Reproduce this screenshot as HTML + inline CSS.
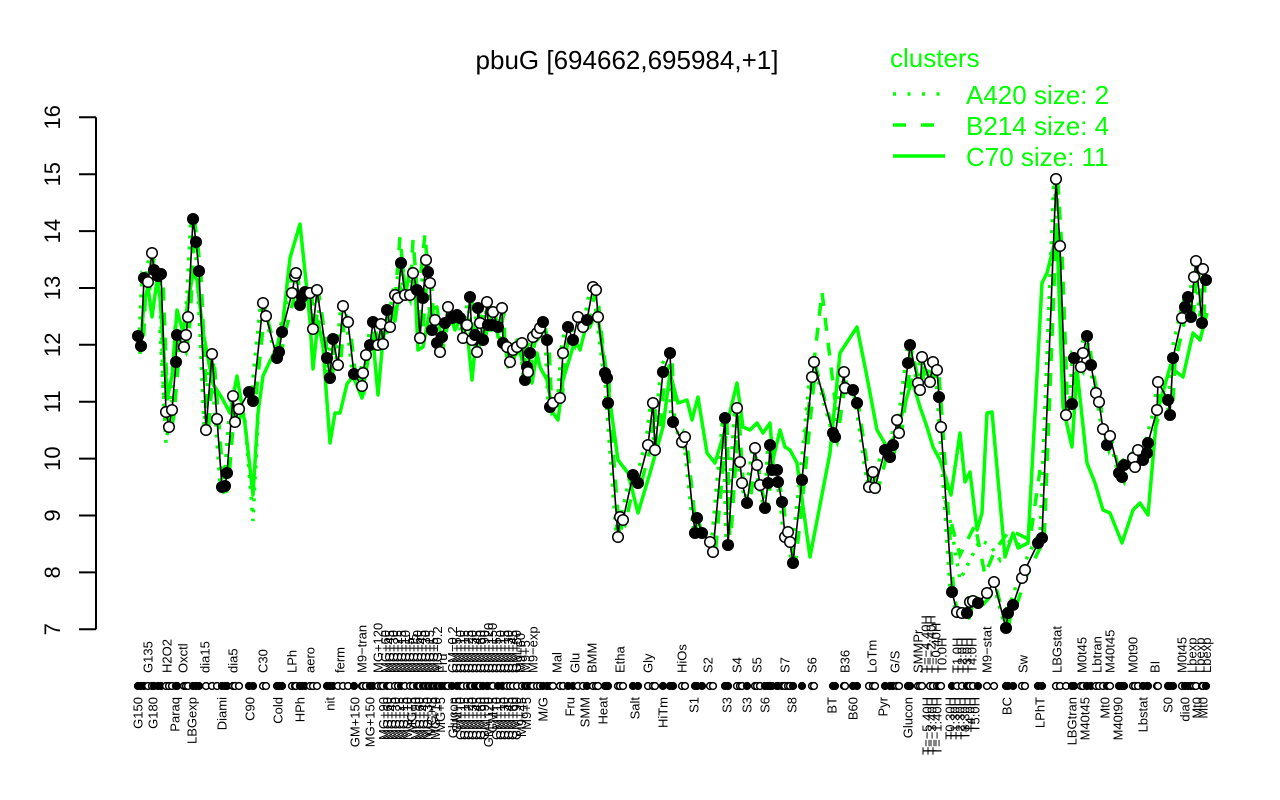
<!DOCTYPE html>
<html><head><meta charset="utf-8"><style>
html,body{margin:0;padding:0;background:#fff;}
svg{display:block;font-family:"Liberation Sans",Arial,sans-serif;}
.f{fill:#000;stroke:#000;stroke-width:1.5}
.o{fill:#fff;stroke:#000;stroke-width:1.5}
.lt{font-size:13px;fill:#000}
.lb{font-size:13px;fill:#000;text-anchor:end}
</style></head><body>
<svg width="1280" height="800" viewBox="0 0 1280 800" xmlns="http://www.w3.org/2000/svg">
<rect width="1280" height="800" fill="#fff"/>
<defs>
<polyline id="bl" points="138,336 141,346 144,278 148,282 152,253 154,270 158,276 161,274 166,412 169,427 172,410 176,362 177,335 184,347 186,335 188,317 193,219 196,242 199,271 206,430 212,354 217,419 222,487 225,486 227,473 233,396 235,422 239,409 249,392 253,401 263,303 266,316 277,358 279,352 282,332 292,293 295,276 296,273 300,305 302,297 305,292 310,293 313,329 317,290 327,358 330,378 333,339 338,365 343,306 348,322 354,374 362,386 363,373 366,355 370,345 373,322 378,345 381,324 383,344 387,310 390,327 395,295 398,298 401,263 405,295 410,295 413,273 417,290 420,338 423,298 426,260 428,272 430,283 432,330 435,320 437,343 440,352 442,337 445,323 448,307 452,318 457,315 460,318 463,338 467,325 470,297 472,340 475,335 477,352 478,308 480,323 483,340 487,302 488,325 492,325 493,312 498,327 502,308 503,343 507,347 510,362 513,350 517,347 522,343 525,380 527,367 528,372 530,353 533,337 537,333 540,328 543,322 547,340 550,407 553,403 560,398 563,353 568,327 573,340 578,317 583,327 587,320 593,287 596,290 598,317 605,373 607,378 608,403 618,537 620,517 623,520 633,475 638,483 648,445 653,403 655,450 663,372 670,353 673,422 682,442 685,437 695,533 697,518 702,533 710,542 713,552 725,418 728,545 737,408 740,462 742,483 747,503 755,448 757,465 760,485 765,508 768,483 770,445 772,470 777,470 778,482 782,502 785,537 788,532 790,542 793,563 802,480 812,377 814,362 833,433 835,437 844,372 845,388 853,390 857,403 869,487 873,472 875,488 885,450 890,457 893,445 897,420 899,433 908,363 910,345 918,383 920,390 922,357 930,382 933,362 937,370 939,397 941,427 952,592 957,612 962,613 967,613 970,602 973,601 978,603 987,593 994,582 1006,628 1008,613 1013,605 1022,578 1025,570 1038,543 1042,538 1056,179 1060,246 1066,415 1072,404 1074,358 1081,367 1083,353 1087,336 1091,365 1096,393 1099,402 1103,429 1107,445 1110,436 1119,473 1122,477 1124,465 1133,458 1135,467 1138,450 1143,460 1147,453 1148,443 1157,410 1158,382 1168,400 1170,415 1173,358 1182,318 1185,307 1188,297 1191,317 1194,277 1196,261 1202,323 1203,269 1206,280"/>
</defs>

<!-- title -->
<text x="627" y="69" font-size="26" text-anchor="middle" fill="#000">pbuG [694662,695984,+1]</text>

<!-- legend -->
<text x="890" y="67" font-size="26" fill="#00ff00">clusters</text>
<line x1="893" y1="94" x2="945" y2="94" stroke="#00ff00" stroke-width="3.5" stroke-dasharray="3,11.5"/>
<line x1="893" y1="125" x2="945" y2="125" stroke="#00ff00" stroke-width="3.5" stroke-dasharray="13,15"/>
<line x1="893" y1="156" x2="945" y2="156" stroke="#00ff00" stroke-width="3.5"/>
<text x="966" y="104" font-size="26" fill="#00ff00">A420 size: 2</text>
<text x="966" y="135" font-size="26" fill="#00ff00">B214 size: 4</text>
<text x="966" y="166" font-size="26" fill="#00ff00">C70 size: 11</text>

<!-- y axis -->
<g stroke="#000" stroke-width="2" fill="none">
<line x1="96" y1="117.3" x2="96" y2="629.3"/>
<line x1="79" y1="117.3" x2="96" y2="117.3"/>
<line x1="79" y1="174.2" x2="96" y2="174.2"/>
<line x1="79" y1="231.1" x2="96" y2="231.1"/>
<line x1="79" y1="288" x2="96" y2="288"/>
<line x1="79" y1="344.8" x2="96" y2="344.8"/>
<line x1="79" y1="401.7" x2="96" y2="401.7"/>
<line x1="79" y1="458.6" x2="96" y2="458.6"/>
<line x1="79" y1="515.5" x2="96" y2="515.5"/>
<line x1="79" y1="572.4" x2="96" y2="572.4"/>
<line x1="79" y1="629.3" x2="96" y2="629.3"/>
</g>
<g font-size="22" fill="#000" text-anchor="middle">
<text transform="translate(60,117.3) rotate(-90)">16</text>
<text transform="translate(60,174.2) rotate(-90)">15</text>
<text transform="translate(60,231.1) rotate(-90)">14</text>
<text transform="translate(60,288) rotate(-90)">13</text>
<text transform="translate(60,344.8) rotate(-90)">12</text>
<text transform="translate(60,401.7) rotate(-90)">11</text>
<text transform="translate(60,458.6) rotate(-90)">10</text>
<text transform="translate(60,515.5) rotate(-90)">9</text>
<text transform="translate(60,572.4) rotate(-90)">8</text>
<text transform="translate(60,629.3) rotate(-90)">7</text>
</g>

<!-- green lines -->
<use href="#bl" fill="none" stroke="#00ff00" stroke-width="3.5" stroke-dasharray="3,8" transform="translate(-2,-4)"/>
<use href="#bl" fill="none" stroke="#00ff00" stroke-width="3.5" stroke-dasharray="13,12" transform="translate(2,5)"/>
<!-- extra dashed excursions -->
<polyline fill="none" stroke="#00ff00" stroke-width="3.5" stroke-dasharray="13,12" points="395,300 400,237 405,290 410,300 413,240 418,300 425,234 430,300"/>
<polyline fill="none" stroke="#00ff00" stroke-width="3.5" stroke-dasharray="13,12" points="805,440 822,292 835,400"/>
<polyline fill="none" stroke="#00ff00" stroke-width="3.5" stroke-dasharray="13,12" points="945,500 960,555 975,525 985,575 995,550 1010,530 1030,540 1040,470"/>
<!-- extra dotted excursions -->
<polyline fill="none" stroke="#00ff00" stroke-width="3.5" stroke-dasharray="3,8" points="160,330 166,443 172,400"/>
<polyline fill="none" stroke="#00ff00" stroke-width="3.5" stroke-dasharray="3,8" points="245,420 253,521 258,420"/>
<polyline fill="none" stroke="#00ff00" stroke-width="3.5" stroke-dasharray="3,8" points="950,520 960,580 970,560 980,540 990,545 1000,560 1010,540 1020,545 1030,540"/>
<polyline fill="none" stroke="#00ff00" stroke-width="3.5" stroke-linejoin="round" points="140,354 144,302 148,287 152,317 157,280 160,298 165,369 168,395 172,376 177,310 183,332 188,302 193,273 197,280 203,332 208,358 213,384 222,398 230,413 237,376 245,424 253,495 258,413 263,376 270,361 277,347 283,321 290,258 300,224 305,272 310,321 313,369 318,321 323,347 330,443 335,413 340,413 347,384 353,376 362,398 367,361 373,339 378,395 383,339 390,313 395,321 400,287 405,298 410,269 415,284 418,350 423,347 430,310 437,307 442,347 448,310 455,330 460,320 468,340 472,380 475,350 480,333 485,337 490,320 495,310 498,337 505,340 508,367 517,340 522,360 527,343 532,383 537,353 540,367 547,380 553,413 558,420 563,380 570,357 575,340 580,350 585,330 590,327 597,310 603,353 608,387 618,460 628,473 638,513 650,473 663,427 670,373 678,403 687,400 692,420 698,397 707,453 715,463 725,430 728,420 737,383 743,427 750,430 757,423 763,433 770,423 773,460 780,430 785,447 790,450 797,463 810,557 830,453 840,353 857,327 867,377 877,430 887,447 897,433 903,410 912,380 920,407 927,427 933,447 940,460 951,495 960,433 965,482 970,472 977,530 982,513 987,413 992,412 1005,557 1013,533 1018,548 1028,543 1042,283 1047,273 1057,233 1063,407 1072,447 1077,370 1087,463 1095,483 1103,510 1110,513 1122,543 1133,510 1140,503 1148,515 1157,413 1170,367 1183,377 1193,333 1200,340 1207,313"/>

<!-- black line -->
<use href="#bl" fill="none" stroke="#000" stroke-width="1.6"/>

<!-- points -->
<g>
<circle cx="138" cy="336" r="5.3" class="f"/><circle cx="141" cy="346" r="5.3" class="f"/><circle cx="144" cy="278" r="5.3" class="f"/><circle cx="148" cy="282" r="5.3" class="o"/><circle cx="152" cy="253" r="5.3" class="o"/><circle cx="154" cy="270" r="5.3" class="f"/><circle cx="158" cy="276" r="5.3" class="f"/><circle cx="161" cy="274" r="5.3" class="f"/><circle cx="166" cy="412" r="5.3" class="o"/><circle cx="169" cy="427" r="5.3" class="o"/><circle cx="172" cy="410" r="5.3" class="o"/><circle cx="176" cy="362" r="5.3" class="f"/><circle cx="177" cy="335" r="5.3" class="f"/><circle cx="184" cy="347" r="5.3" class="o"/><circle cx="186" cy="335" r="5.3" class="o"/><circle cx="188" cy="317" r="5.3" class="o"/><circle cx="193" cy="219" r="5.3" class="f"/><circle cx="196" cy="242" r="5.3" class="f"/><circle cx="199" cy="271" r="5.3" class="f"/><circle cx="206" cy="430" r="5.3" class="o"/><circle cx="212" cy="354" r="5.3" class="o"/><circle cx="217" cy="419" r="5.3" class="o"/><circle cx="222" cy="487" r="5.3" class="f"/><circle cx="225" cy="486" r="5.3" class="f"/><circle cx="227" cy="473" r="5.3" class="f"/><circle cx="233" cy="396" r="5.3" class="o"/><circle cx="235" cy="422" r="5.3" class="o"/><circle cx="239" cy="409" r="5.3" class="o"/><circle cx="249" cy="392" r="5.3" class="f"/><circle cx="253" cy="401" r="5.3" class="f"/><circle cx="263" cy="303" r="5.3" class="o"/><circle cx="266" cy="316" r="5.3" class="o"/><circle cx="277" cy="358" r="5.3" class="f"/><circle cx="279" cy="352" r="5.3" class="f"/><circle cx="282" cy="332" r="5.3" class="f"/><circle cx="292" cy="293" r="5.3" class="o"/><circle cx="295" cy="276" r="5.3" class="o"/><circle cx="296" cy="273" r="5.3" class="o"/><circle cx="300" cy="305" r="5.3" class="f"/><circle cx="302" cy="297" r="5.3" class="f"/><circle cx="305" cy="292" r="5.3" class="f"/><circle cx="310" cy="293" r="5.3" class="o"/><circle cx="313" cy="329" r="5.3" class="o"/><circle cx="317" cy="290" r="5.3" class="o"/><circle cx="327" cy="358" r="5.3" class="f"/><circle cx="330" cy="378" r="5.3" class="f"/><circle cx="333" cy="339" r="5.3" class="f"/><circle cx="338" cy="365" r="5.3" class="o"/><circle cx="343" cy="306" r="5.3" class="o"/><circle cx="348" cy="322" r="5.3" class="o"/><circle cx="354" cy="374" r="5.3" class="f"/><circle cx="362" cy="386" r="5.3" class="o"/><circle cx="363" cy="373" r="5.3" class="o"/><circle cx="366" cy="355" r="5.3" class="o"/><circle cx="370" cy="345" r="5.3" class="f"/><circle cx="373" cy="322" r="5.3" class="f"/><circle cx="378" cy="345" r="5.3" class="o"/><circle cx="381" cy="324" r="5.3" class="o"/><circle cx="383" cy="344" r="5.3" class="o"/><circle cx="387" cy="310" r="5.3" class="f"/><circle cx="390" cy="327" r="5.3" class="o"/><circle cx="395" cy="295" r="5.3" class="o"/><circle cx="398" cy="298" r="5.3" class="o"/><circle cx="401" cy="263" r="5.3" class="f"/><circle cx="405" cy="295" r="5.3" class="o"/><circle cx="410" cy="295" r="5.3" class="o"/><circle cx="413" cy="273" r="5.3" class="o"/><circle cx="417" cy="290" r="5.3" class="f"/><circle cx="420" cy="338" r="5.3" class="o"/><circle cx="423" cy="298" r="5.3" class="f"/><circle cx="426" cy="260" r="5.3" class="o"/><circle cx="428" cy="272" r="5.3" class="f"/><circle cx="430" cy="283" r="5.3" class="o"/><circle cx="432" cy="330" r="5.3" class="f"/><circle cx="435" cy="320" r="5.3" class="o"/><circle cx="437" cy="343" r="5.3" class="f"/><circle cx="440" cy="352" r="5.3" class="o"/><circle cx="442" cy="337" r="5.3" class="f"/><circle cx="445" cy="323" r="5.3" class="f"/><circle cx="448" cy="307" r="5.3" class="o"/><circle cx="452" cy="318" r="5.3" class="f"/><circle cx="457" cy="315" r="5.3" class="f"/><circle cx="460" cy="318" r="5.3" class="f"/><circle cx="463" cy="338" r="5.3" class="o"/><circle cx="467" cy="325" r="5.3" class="o"/><circle cx="470" cy="297" r="5.3" class="f"/><circle cx="472" cy="340" r="5.3" class="o"/><circle cx="475" cy="335" r="5.3" class="f"/><circle cx="477" cy="352" r="5.3" class="o"/><circle cx="478" cy="308" r="5.3" class="f"/><circle cx="480" cy="323" r="5.3" class="o"/><circle cx="483" cy="340" r="5.3" class="f"/><circle cx="487" cy="302" r="5.3" class="o"/><circle cx="488" cy="325" r="5.3" class="f"/><circle cx="492" cy="325" r="5.3" class="f"/><circle cx="493" cy="312" r="5.3" class="o"/><circle cx="498" cy="327" r="5.3" class="f"/><circle cx="502" cy="308" r="5.3" class="o"/><circle cx="503" cy="343" r="5.3" class="f"/><circle cx="507" cy="347" r="5.3" class="o"/><circle cx="510" cy="362" r="5.3" class="o"/><circle cx="513" cy="350" r="5.3" class="o"/><circle cx="517" cy="347" r="5.3" class="o"/><circle cx="522" cy="343" r="5.3" class="o"/><circle cx="525" cy="380" r="5.3" class="f"/><circle cx="527" cy="367" r="5.3" class="f"/><circle cx="528" cy="372" r="5.3" class="o"/><circle cx="530" cy="353" r="5.3" class="f"/><circle cx="533" cy="337" r="5.3" class="o"/><circle cx="537" cy="333" r="5.3" class="o"/><circle cx="540" cy="328" r="5.3" class="o"/><circle cx="543" cy="322" r="5.3" class="f"/><circle cx="547" cy="340" r="5.3" class="f"/><circle cx="550" cy="407" r="5.3" class="f"/><circle cx="553" cy="403" r="5.3" class="o"/><circle cx="560" cy="398" r="5.3" class="o"/><circle cx="563" cy="353" r="5.3" class="o"/><circle cx="568" cy="327" r="5.3" class="f"/><circle cx="573" cy="340" r="5.3" class="f"/><circle cx="578" cy="317" r="5.3" class="o"/><circle cx="583" cy="327" r="5.3" class="o"/><circle cx="587" cy="320" r="5.3" class="f"/><circle cx="593" cy="287" r="5.3" class="o"/><circle cx="596" cy="290" r="5.3" class="o"/><circle cx="598" cy="317" r="5.3" class="o"/><circle cx="605" cy="373" r="5.3" class="f"/><circle cx="607" cy="378" r="5.3" class="f"/><circle cx="608" cy="403" r="5.3" class="f"/><circle cx="618" cy="537" r="5.3" class="o"/><circle cx="620" cy="517" r="5.3" class="o"/><circle cx="623" cy="520" r="5.3" class="o"/><circle cx="633" cy="475" r="5.3" class="f"/><circle cx="638" cy="483" r="5.3" class="f"/><circle cx="648" cy="445" r="5.3" class="o"/><circle cx="653" cy="403" r="5.3" class="o"/><circle cx="655" cy="450" r="5.3" class="o"/><circle cx="663" cy="372" r="5.3" class="f"/><circle cx="670" cy="353" r="5.3" class="f"/><circle cx="673" cy="422" r="5.3" class="f"/><circle cx="682" cy="442" r="5.3" class="o"/><circle cx="685" cy="437" r="5.3" class="o"/><circle cx="695" cy="533" r="5.3" class="f"/><circle cx="697" cy="518" r="5.3" class="f"/><circle cx="702" cy="533" r="5.3" class="f"/><circle cx="710" cy="542" r="5.3" class="o"/><circle cx="713" cy="552" r="5.3" class="o"/><circle cx="725" cy="418" r="5.3" class="f"/><circle cx="728" cy="545" r="5.3" class="f"/><circle cx="737" cy="408" r="5.3" class="o"/><circle cx="740" cy="462" r="5.3" class="o"/><circle cx="742" cy="483" r="5.3" class="o"/><circle cx="747" cy="503" r="5.3" class="f"/><circle cx="755" cy="448" r="5.3" class="o"/><circle cx="757" cy="465" r="5.3" class="o"/><circle cx="760" cy="485" r="5.3" class="o"/><circle cx="765" cy="508" r="5.3" class="f"/><circle cx="768" cy="483" r="5.3" class="f"/><circle cx="770" cy="445" r="5.3" class="f"/><circle cx="772" cy="470" r="5.3" class="f"/><circle cx="777" cy="470" r="5.3" class="f"/><circle cx="778" cy="482" r="5.3" class="f"/><circle cx="782" cy="502" r="5.3" class="f"/><circle cx="785" cy="537" r="5.3" class="o"/><circle cx="788" cy="532" r="5.3" class="o"/><circle cx="790" cy="542" r="5.3" class="o"/><circle cx="793" cy="563" r="5.3" class="f"/><circle cx="802" cy="480" r="5.3" class="f"/><circle cx="812" cy="377" r="5.3" class="o"/><circle cx="814" cy="362" r="5.3" class="o"/><circle cx="833" cy="433" r="5.3" class="f"/><circle cx="835" cy="437" r="5.3" class="f"/><circle cx="844" cy="372" r="5.3" class="o"/><circle cx="845" cy="388" r="5.3" class="o"/><circle cx="853" cy="390" r="5.3" class="f"/><circle cx="857" cy="403" r="5.3" class="f"/><circle cx="869" cy="487" r="5.3" class="o"/><circle cx="873" cy="472" r="5.3" class="o"/><circle cx="875" cy="488" r="5.3" class="o"/><circle cx="885" cy="450" r="5.3" class="f"/><circle cx="890" cy="457" r="5.3" class="f"/><circle cx="893" cy="445" r="5.3" class="f"/><circle cx="897" cy="420" r="5.3" class="o"/><circle cx="899" cy="433" r="5.3" class="o"/><circle cx="908" cy="363" r="5.3" class="f"/><circle cx="910" cy="345" r="5.3" class="f"/><circle cx="918" cy="383" r="5.3" class="o"/><circle cx="920" cy="390" r="5.3" class="o"/><circle cx="922" cy="357" r="5.3" class="o"/><circle cx="930" cy="382" r="5.3" class="o"/><circle cx="933" cy="362" r="5.3" class="o"/><circle cx="937" cy="370" r="5.3" class="o"/><circle cx="939" cy="397" r="5.3" class="f"/><circle cx="941" cy="427" r="5.3" class="o"/><circle cx="952" cy="592" r="5.3" class="f"/><circle cx="957" cy="612" r="5.3" class="o"/><circle cx="962" cy="613" r="5.3" class="o"/><circle cx="967" cy="613" r="5.3" class="f"/><circle cx="970" cy="602" r="5.3" class="o"/><circle cx="973" cy="601" r="5.3" class="o"/><circle cx="978" cy="603" r="5.3" class="f"/><circle cx="987" cy="593" r="5.3" class="o"/><circle cx="994" cy="582" r="5.3" class="o"/><circle cx="1006" cy="628" r="5.3" class="f"/><circle cx="1008" cy="613" r="5.3" class="f"/><circle cx="1013" cy="605" r="5.3" class="f"/><circle cx="1022" cy="578" r="5.3" class="o"/><circle cx="1025" cy="570" r="5.3" class="o"/><circle cx="1038" cy="543" r="5.3" class="f"/><circle cx="1042" cy="538" r="5.3" class="f"/><circle cx="1056" cy="179" r="5.3" class="o"/><circle cx="1060" cy="246" r="5.3" class="o"/><circle cx="1066" cy="415" r="5.3" class="o"/><circle cx="1072" cy="404" r="5.3" class="f"/><circle cx="1074" cy="358" r="5.3" class="f"/><circle cx="1081" cy="367" r="5.3" class="o"/><circle cx="1083" cy="353" r="5.3" class="o"/><circle cx="1087" cy="336" r="5.3" class="f"/><circle cx="1091" cy="365" r="5.3" class="f"/><circle cx="1096" cy="393" r="5.3" class="o"/><circle cx="1099" cy="402" r="5.3" class="o"/><circle cx="1103" cy="429" r="5.3" class="o"/><circle cx="1107" cy="445" r="5.3" class="f"/><circle cx="1110" cy="436" r="5.3" class="o"/><circle cx="1119" cy="473" r="5.3" class="f"/><circle cx="1122" cy="477" r="5.3" class="f"/><circle cx="1124" cy="465" r="5.3" class="f"/><circle cx="1133" cy="458" r="5.3" class="o"/><circle cx="1135" cy="467" r="5.3" class="o"/><circle cx="1138" cy="450" r="5.3" class="o"/><circle cx="1143" cy="460" r="5.3" class="f"/><circle cx="1147" cy="453" r="5.3" class="f"/><circle cx="1148" cy="443" r="5.3" class="f"/><circle cx="1157" cy="410" r="5.3" class="o"/><circle cx="1158" cy="382" r="5.3" class="o"/><circle cx="1168" cy="400" r="5.3" class="f"/><circle cx="1170" cy="415" r="5.3" class="f"/><circle cx="1173" cy="358" r="5.3" class="f"/><circle cx="1182" cy="318" r="5.3" class="o"/><circle cx="1185" cy="307" r="5.3" class="f"/><circle cx="1188" cy="297" r="5.3" class="f"/><circle cx="1191" cy="317" r="5.3" class="f"/><circle cx="1194" cy="277" r="5.3" class="o"/><circle cx="1196" cy="261" r="5.3" class="o"/><circle cx="1202" cy="323" r="5.3" class="f"/><circle cx="1203" cy="269" r="5.3" class="o"/><circle cx="1206" cy="280" r="5.3" class="f"/>
</g>

<!-- rug -->
<g>
<circle cx="138" cy="686" r="3.4" class="f"/><circle cx="141" cy="686" r="3.4" class="f"/><circle cx="144" cy="686" r="3.4" class="f"/><circle cx="148" cy="686" r="3.4" class="o"/><circle cx="152" cy="686" r="3.4" class="o"/><circle cx="154" cy="686" r="3.4" class="f"/><circle cx="158" cy="686" r="3.4" class="f"/><circle cx="161" cy="686" r="3.4" class="f"/><circle cx="166" cy="686" r="3.4" class="o"/><circle cx="169" cy="686" r="3.4" class="o"/><circle cx="172" cy="686" r="3.4" class="o"/><circle cx="176" cy="686" r="3.4" class="f"/><circle cx="177" cy="686" r="3.4" class="f"/><circle cx="184" cy="686" r="3.4" class="o"/><circle cx="186" cy="686" r="3.4" class="o"/><circle cx="188" cy="686" r="3.4" class="o"/><circle cx="193" cy="686" r="3.4" class="f"/><circle cx="196" cy="686" r="3.4" class="f"/><circle cx="199" cy="686" r="3.4" class="f"/><circle cx="206" cy="686" r="3.4" class="o"/><circle cx="212" cy="686" r="3.4" class="o"/><circle cx="217" cy="686" r="3.4" class="o"/><circle cx="222" cy="686" r="3.4" class="f"/><circle cx="225" cy="686" r="3.4" class="f"/><circle cx="227" cy="686" r="3.4" class="f"/><circle cx="233" cy="686" r="3.4" class="o"/><circle cx="235" cy="686" r="3.4" class="o"/><circle cx="239" cy="686" r="3.4" class="o"/><circle cx="249" cy="686" r="3.4" class="f"/><circle cx="253" cy="686" r="3.4" class="f"/><circle cx="263" cy="686" r="3.4" class="o"/><circle cx="266" cy="686" r="3.4" class="o"/><circle cx="277" cy="686" r="3.4" class="f"/><circle cx="279" cy="686" r="3.4" class="f"/><circle cx="282" cy="686" r="3.4" class="f"/><circle cx="292" cy="686" r="3.4" class="o"/><circle cx="295" cy="686" r="3.4" class="o"/><circle cx="296" cy="686" r="3.4" class="o"/><circle cx="300" cy="686" r="3.4" class="f"/><circle cx="302" cy="686" r="3.4" class="f"/><circle cx="305" cy="686" r="3.4" class="f"/><circle cx="310" cy="686" r="3.4" class="o"/><circle cx="313" cy="686" r="3.4" class="o"/><circle cx="317" cy="686" r="3.4" class="o"/><circle cx="327" cy="686" r="3.4" class="f"/><circle cx="330" cy="686" r="3.4" class="f"/><circle cx="333" cy="686" r="3.4" class="f"/><circle cx="338" cy="686" r="3.4" class="o"/><circle cx="343" cy="686" r="3.4" class="o"/><circle cx="348" cy="686" r="3.4" class="o"/><circle cx="354" cy="686" r="3.4" class="f"/><circle cx="362" cy="686" r="3.4" class="o"/><circle cx="363" cy="686" r="3.4" class="o"/><circle cx="366" cy="686" r="3.4" class="o"/><circle cx="370" cy="686" r="3.4" class="f"/><circle cx="373" cy="686" r="3.4" class="f"/><circle cx="378" cy="686" r="3.4" class="o"/><circle cx="381" cy="686" r="3.4" class="o"/><circle cx="383" cy="686" r="3.4" class="o"/><circle cx="387" cy="686" r="3.4" class="f"/><circle cx="390" cy="686" r="3.4" class="o"/><circle cx="395" cy="686" r="3.4" class="o"/><circle cx="398" cy="686" r="3.4" class="o"/><circle cx="401" cy="686" r="3.4" class="f"/><circle cx="405" cy="686" r="3.4" class="o"/><circle cx="410" cy="686" r="3.4" class="o"/><circle cx="413" cy="686" r="3.4" class="o"/><circle cx="417" cy="686" r="3.4" class="f"/><circle cx="420" cy="686" r="3.4" class="o"/><circle cx="423" cy="686" r="3.4" class="f"/><circle cx="426" cy="686" r="3.4" class="o"/><circle cx="428" cy="686" r="3.4" class="f"/><circle cx="430" cy="686" r="3.4" class="o"/><circle cx="432" cy="686" r="3.4" class="f"/><circle cx="435" cy="686" r="3.4" class="o"/><circle cx="437" cy="686" r="3.4" class="f"/><circle cx="440" cy="686" r="3.4" class="o"/><circle cx="442" cy="686" r="3.4" class="f"/><circle cx="445" cy="686" r="3.4" class="f"/><circle cx="448" cy="686" r="3.4" class="o"/><circle cx="452" cy="686" r="3.4" class="f"/><circle cx="457" cy="686" r="3.4" class="f"/><circle cx="460" cy="686" r="3.4" class="f"/><circle cx="463" cy="686" r="3.4" class="o"/><circle cx="467" cy="686" r="3.4" class="o"/><circle cx="470" cy="686" r="3.4" class="f"/><circle cx="472" cy="686" r="3.4" class="o"/><circle cx="475" cy="686" r="3.4" class="f"/><circle cx="477" cy="686" r="3.4" class="o"/><circle cx="478" cy="686" r="3.4" class="f"/><circle cx="480" cy="686" r="3.4" class="o"/><circle cx="483" cy="686" r="3.4" class="f"/><circle cx="487" cy="686" r="3.4" class="o"/><circle cx="488" cy="686" r="3.4" class="f"/><circle cx="492" cy="686" r="3.4" class="f"/><circle cx="493" cy="686" r="3.4" class="o"/><circle cx="498" cy="686" r="3.4" class="f"/><circle cx="502" cy="686" r="3.4" class="o"/><circle cx="503" cy="686" r="3.4" class="f"/><circle cx="507" cy="686" r="3.4" class="o"/><circle cx="510" cy="686" r="3.4" class="o"/><circle cx="513" cy="686" r="3.4" class="o"/><circle cx="517" cy="686" r="3.4" class="o"/><circle cx="522" cy="686" r="3.4" class="o"/><circle cx="525" cy="686" r="3.4" class="f"/><circle cx="527" cy="686" r="3.4" class="f"/><circle cx="528" cy="686" r="3.4" class="o"/><circle cx="530" cy="686" r="3.4" class="f"/><circle cx="533" cy="686" r="3.4" class="o"/><circle cx="537" cy="686" r="3.4" class="o"/><circle cx="540" cy="686" r="3.4" class="o"/><circle cx="543" cy="686" r="3.4" class="f"/><circle cx="547" cy="686" r="3.4" class="f"/><circle cx="550" cy="686" r="3.4" class="f"/><circle cx="553" cy="686" r="3.4" class="o"/><circle cx="560" cy="686" r="3.4" class="o"/><circle cx="563" cy="686" r="3.4" class="o"/><circle cx="568" cy="686" r="3.4" class="f"/><circle cx="573" cy="686" r="3.4" class="f"/><circle cx="578" cy="686" r="3.4" class="o"/><circle cx="583" cy="686" r="3.4" class="o"/><circle cx="587" cy="686" r="3.4" class="f"/><circle cx="593" cy="686" r="3.4" class="o"/><circle cx="596" cy="686" r="3.4" class="o"/><circle cx="598" cy="686" r="3.4" class="o"/><circle cx="605" cy="686" r="3.4" class="f"/><circle cx="607" cy="686" r="3.4" class="f"/><circle cx="608" cy="686" r="3.4" class="f"/><circle cx="618" cy="686" r="3.4" class="o"/><circle cx="620" cy="686" r="3.4" class="o"/><circle cx="623" cy="686" r="3.4" class="o"/><circle cx="633" cy="686" r="3.4" class="f"/><circle cx="638" cy="686" r="3.4" class="f"/><circle cx="648" cy="686" r="3.4" class="o"/><circle cx="653" cy="686" r="3.4" class="o"/><circle cx="655" cy="686" r="3.4" class="o"/><circle cx="663" cy="686" r="3.4" class="f"/><circle cx="670" cy="686" r="3.4" class="f"/><circle cx="673" cy="686" r="3.4" class="f"/><circle cx="682" cy="686" r="3.4" class="o"/><circle cx="685" cy="686" r="3.4" class="o"/><circle cx="695" cy="686" r="3.4" class="f"/><circle cx="697" cy="686" r="3.4" class="f"/><circle cx="702" cy="686" r="3.4" class="f"/><circle cx="710" cy="686" r="3.4" class="o"/><circle cx="713" cy="686" r="3.4" class="o"/><circle cx="725" cy="686" r="3.4" class="f"/><circle cx="728" cy="686" r="3.4" class="f"/><circle cx="737" cy="686" r="3.4" class="o"/><circle cx="740" cy="686" r="3.4" class="o"/><circle cx="742" cy="686" r="3.4" class="o"/><circle cx="747" cy="686" r="3.4" class="f"/><circle cx="755" cy="686" r="3.4" class="o"/><circle cx="757" cy="686" r="3.4" class="o"/><circle cx="760" cy="686" r="3.4" class="o"/><circle cx="765" cy="686" r="3.4" class="f"/><circle cx="768" cy="686" r="3.4" class="f"/><circle cx="770" cy="686" r="3.4" class="f"/><circle cx="772" cy="686" r="3.4" class="f"/><circle cx="777" cy="686" r="3.4" class="f"/><circle cx="778" cy="686" r="3.4" class="f"/><circle cx="782" cy="686" r="3.4" class="f"/><circle cx="785" cy="686" r="3.4" class="o"/><circle cx="788" cy="686" r="3.4" class="o"/><circle cx="790" cy="686" r="3.4" class="o"/><circle cx="793" cy="686" r="3.4" class="f"/><circle cx="802" cy="686" r="3.4" class="f"/><circle cx="812" cy="686" r="3.4" class="o"/><circle cx="814" cy="686" r="3.4" class="o"/><circle cx="833" cy="686" r="3.4" class="f"/><circle cx="835" cy="686" r="3.4" class="f"/><circle cx="844" cy="686" r="3.4" class="o"/><circle cx="845" cy="686" r="3.4" class="o"/><circle cx="853" cy="686" r="3.4" class="f"/><circle cx="857" cy="686" r="3.4" class="f"/><circle cx="869" cy="686" r="3.4" class="o"/><circle cx="873" cy="686" r="3.4" class="o"/><circle cx="875" cy="686" r="3.4" class="o"/><circle cx="885" cy="686" r="3.4" class="f"/><circle cx="890" cy="686" r="3.4" class="f"/><circle cx="893" cy="686" r="3.4" class="f"/><circle cx="897" cy="686" r="3.4" class="o"/><circle cx="899" cy="686" r="3.4" class="o"/><circle cx="908" cy="686" r="3.4" class="f"/><circle cx="910" cy="686" r="3.4" class="f"/><circle cx="918" cy="686" r="3.4" class="o"/><circle cx="920" cy="686" r="3.4" class="o"/><circle cx="922" cy="686" r="3.4" class="o"/><circle cx="930" cy="686" r="3.4" class="o"/><circle cx="933" cy="686" r="3.4" class="o"/><circle cx="937" cy="686" r="3.4" class="o"/><circle cx="939" cy="686" r="3.4" class="f"/><circle cx="941" cy="686" r="3.4" class="o"/><circle cx="952" cy="686" r="3.4" class="f"/><circle cx="957" cy="686" r="3.4" class="o"/><circle cx="962" cy="686" r="3.4" class="o"/><circle cx="967" cy="686" r="3.4" class="f"/><circle cx="970" cy="686" r="3.4" class="o"/><circle cx="973" cy="686" r="3.4" class="o"/><circle cx="978" cy="686" r="3.4" class="f"/><circle cx="987" cy="686" r="3.4" class="o"/><circle cx="994" cy="686" r="3.4" class="o"/><circle cx="1006" cy="686" r="3.4" class="f"/><circle cx="1008" cy="686" r="3.4" class="f"/><circle cx="1013" cy="686" r="3.4" class="f"/><circle cx="1022" cy="686" r="3.4" class="o"/><circle cx="1025" cy="686" r="3.4" class="o"/><circle cx="1038" cy="686" r="3.4" class="f"/><circle cx="1042" cy="686" r="3.4" class="f"/><circle cx="1056" cy="686" r="3.4" class="o"/><circle cx="1060" cy="686" r="3.4" class="o"/><circle cx="1066" cy="686" r="3.4" class="o"/><circle cx="1072" cy="686" r="3.4" class="f"/><circle cx="1074" cy="686" r="3.4" class="f"/><circle cx="1081" cy="686" r="3.4" class="o"/><circle cx="1083" cy="686" r="3.4" class="o"/><circle cx="1087" cy="686" r="3.4" class="f"/><circle cx="1091" cy="686" r="3.4" class="f"/><circle cx="1096" cy="686" r="3.4" class="o"/><circle cx="1099" cy="686" r="3.4" class="o"/><circle cx="1103" cy="686" r="3.4" class="o"/><circle cx="1107" cy="686" r="3.4" class="f"/><circle cx="1110" cy="686" r="3.4" class="o"/><circle cx="1119" cy="686" r="3.4" class="f"/><circle cx="1122" cy="686" r="3.4" class="f"/><circle cx="1124" cy="686" r="3.4" class="f"/><circle cx="1133" cy="686" r="3.4" class="o"/><circle cx="1135" cy="686" r="3.4" class="o"/><circle cx="1138" cy="686" r="3.4" class="o"/><circle cx="1143" cy="686" r="3.4" class="f"/><circle cx="1147" cy="686" r="3.4" class="f"/><circle cx="1148" cy="686" r="3.4" class="f"/><circle cx="1157" cy="686" r="3.4" class="o"/><circle cx="1158" cy="686" r="3.4" class="o"/><circle cx="1168" cy="686" r="3.4" class="f"/><circle cx="1170" cy="686" r="3.4" class="f"/><circle cx="1173" cy="686" r="3.4" class="f"/><circle cx="1182" cy="686" r="3.4" class="o"/><circle cx="1185" cy="686" r="3.4" class="f"/><circle cx="1188" cy="686" r="3.4" class="f"/><circle cx="1191" cy="686" r="3.4" class="f"/><circle cx="1194" cy="686" r="3.4" class="o"/><circle cx="1196" cy="686" r="3.4" class="o"/><circle cx="1202" cy="686" r="3.4" class="f"/><circle cx="1203" cy="686" r="3.4" class="o"/><circle cx="1206" cy="686" r="3.4" class="f"/>
</g>

<!-- x labels (top group) -->
<g class="lt">
<text class="lt" transform="translate(152.5,673) rotate(-90)">G135</text>
<text class="lt" transform="translate(171.5,673) rotate(-90)">H2O2</text>
<text class="lt" transform="translate(187.5,673) rotate(-90)">Oxctl</text>
<text class="lt" transform="translate(209.5,673) rotate(-90)">dia15</text>
<text class="lt" transform="translate(237.5,673) rotate(-90)">dia5</text>
<text class="lt" transform="translate(267.5,673) rotate(-90)">C30</text>
<text class="lt" transform="translate(296.5,673) rotate(-90)">LPh</text>
<text class="lt" transform="translate(314.5,673) rotate(-90)">aero</text>
<text class="lt" transform="translate(344.5,673) rotate(-90)">ferm</text>
<text class="lt" transform="translate(366.5,673) rotate(-90)">M9−tran</text>
<text class="lt" transform="translate(382.5,673) rotate(-90)">MG+120</text>
<text class="lt" transform="translate(390,673) rotate(-90)">MG+60</text>
<text class="lt" transform="translate(394,673) rotate(-90)">MG+45</text>
<text class="lt" transform="translate(398,673) rotate(-90)">MG+30</text>
<text class="lt" transform="translate(402,673) rotate(-90)">MG+25</text>
<text class="lt" transform="translate(406,673) rotate(-90)">MG+15</text>
<text class="lt" transform="translate(410,673) rotate(-90)">MG+10</text>
<text class="lt" transform="translate(414,673) rotate(-90)">MG+5</text>
<text class="lt" transform="translate(418,673) rotate(-90)">MG+t5</text>
<text class="lt" transform="translate(422,673) rotate(-90)">MG+60</text>
<text class="lt" transform="translate(426,673) rotate(-90)">MG+45</text>
<text class="lt" transform="translate(430,673) rotate(-90)">MG+30</text>
<text class="lt" transform="translate(434,673) rotate(-90)">MG+15</text>
<text class="lt" transform="translate(438,673) rotate(-90)">MG+5</text>
<text class="lt" transform="translate(442,673) rotate(-90)">MG−0.2</text>
<text class="lt" transform="translate(447,673) rotate(-90)">Fru</text>
<text class="lt" transform="translate(457,673) rotate(-90)">GM−0.2</text>
<text class="lt" transform="translate(461,673) rotate(-90)">GM+5</text>
<text class="lt" transform="translate(465,673) rotate(-90)">GM+10</text>
<text class="lt" transform="translate(469,673) rotate(-90)">GM+15</text>
<text class="lt" transform="translate(473,673) rotate(-90)">GM+25</text>
<text class="lt" transform="translate(477,673) rotate(-90)">GM+30</text>
<text class="lt" transform="translate(481,673) rotate(-90)">GM+45</text>
<text class="lt" transform="translate(485,673) rotate(-90)">GM+60</text>
<text class="lt" transform="translate(489,673) rotate(-90)">GM+90</text>
<text class="lt" transform="translate(493,673) rotate(-90)">GM+120</text>
<text class="lt" transform="translate(497,673) rotate(-90)">GM+150</text>
<text class="lt" transform="translate(501,673) rotate(-90)">GM+5</text>
<text class="lt" transform="translate(505,673) rotate(-90)">GM+10</text>
<text class="lt" transform="translate(509,673) rotate(-90)">GM+15</text>
<text class="lt" transform="translate(513,673) rotate(-90)">GM+30</text>
<text class="lt" transform="translate(517,673) rotate(-90)">GM+45</text>
<text class="lt" transform="translate(521,673) rotate(-90)">GM+60</text>
<text class="lt" transform="translate(525,673) rotate(-90)">M9+60</text>
<text class="lt" transform="translate(530,673) rotate(-90)">M9+5</text>
<text class="lt" transform="translate(537.5,673) rotate(-90)">M9−exp</text>
<text class="lt" transform="translate(561.5,673) rotate(-90)">Mal</text>
<text class="lt" transform="translate(579.5,673) rotate(-90)">Glu</text>
<text class="lt" transform="translate(596.5,673) rotate(-90)">BMM</text>
<text class="lt" transform="translate(624.5,673) rotate(-90)">Etha</text>
<text class="lt" transform="translate(652.5,673) rotate(-90)">Gly</text>
<text class="lt" transform="translate(686.5,673) rotate(-90)">HiOs</text>
<text class="lt" transform="translate(712.5,673) rotate(-90)">S2</text>
<text class="lt" transform="translate(741.5,673) rotate(-90)">S4</text>
<text class="lt" transform="translate(761.5,673) rotate(-90)">S5</text>
<text class="lt" transform="translate(789.5,673) rotate(-90)">S7</text>
<text class="lt" transform="translate(816.5,673) rotate(-90)">S6</text>
<text class="lt" transform="translate(849.5,673) rotate(-90)">B36</text>
<text class="lt" transform="translate(876.5,673) rotate(-90)">LoTm</text>
<text class="lt" transform="translate(899.5,673) rotate(-90)">G/S</text>
<text class="lt" transform="translate(922.5,673) rotate(-90)">SMMPr</text>
<text class="lt" transform="translate(930.5,673) rotate(-90)">T=−4.40H</text>
<text class="lt" transform="translate(935.5,673) rotate(-90)">T=−2.40H</text>
<text class="lt" transform="translate(940.5,673) rotate(-90)">T−0.40H</text>
<text class="lt" transform="translate(946.5,673) rotate(-90)">T0.0H</text>
<text class="lt" transform="translate(961.5,673) rotate(-90)">T1.0H</text>
<text class="lt" transform="translate(966.5,673) rotate(-90)">T2.0H</text>
<text class="lt" transform="translate(971.5,673) rotate(-90)">T3.0H</text>
<text class="lt" transform="translate(976.5,673) rotate(-90)">T4.0H</text>
<text class="lt" transform="translate(991.5,673) rotate(-90)">M9−stat</text>
<text class="lt" transform="translate(1027.5,673) rotate(-90)">Sw</text>
<text class="lt" transform="translate(1061.5,673) rotate(-90)">LBGstat</text>
<text class="lt" transform="translate(1086.5,673) rotate(-90)">M0t45</text>
<text class="lt" transform="translate(1101.5,673) rotate(-90)">Lbtran</text>
<text class="lt" transform="translate(1114.5,673) rotate(-90)">M40t45</text>
<text class="lt" transform="translate(1137.5,673) rotate(-90)">M0t90</text>
<text class="lt" transform="translate(1159.5,673) rotate(-90)">BI</text>
<text class="lt" transform="translate(1186.5,673) rotate(-90)">M0t45</text>
<text class="lt" transform="translate(1196.5,673) rotate(-90)">Lbexp</text>
<text class="lt" transform="translate(1204.5,673) rotate(-90)">Lbexp</text>
<text class="lt" transform="translate(1211,673) rotate(-90)">Lbexp</text>
</g>

<!-- x labels (bottom group) -->
<g>
<text class="lb" transform="translate(142.5,697) rotate(-90)">G150</text>
<text class="lb" transform="translate(157.5,697) rotate(-90)">G180</text>
<text class="lb" transform="translate(179.5,697) rotate(-90)">Paraq</text>
<text class="lb" transform="translate(196.5,697) rotate(-90)">LBGexp</text>
<text class="lb" transform="translate(226.5,697) rotate(-90)">Diami</text>
<text class="lb" transform="translate(254.5,697) rotate(-90)">C90</text>
<text class="lb" transform="translate(282.5,697) rotate(-90)">Cold</text>
<text class="lb" transform="translate(304.5,697) rotate(-90)">HPh</text>
<text class="lb" transform="translate(334.5,697) rotate(-90)">nit</text>
<text class="lb" transform="translate(359.5,697) rotate(-90)">GM+150</text>
<text class="lb" transform="translate(374.5,697) rotate(-90)">MG+150</text>
<text class="lb" transform="translate(388,697) rotate(-90)">MG+90</text>
<text class="lb" transform="translate(392,697) rotate(-90)">MG+60</text>
<text class="lb" transform="translate(396,697) rotate(-90)">MG+45</text>
<text class="lb" transform="translate(400,697) rotate(-90)">MG+30</text>
<text class="lb" transform="translate(404,697) rotate(-90)">MG+25</text>
<text class="lb" transform="translate(408,697) rotate(-90)">MG+15</text>
<text class="lb" transform="translate(412,697) rotate(-90)">MG+10</text>
<text class="lb" transform="translate(416,697) rotate(-90)">MG+5</text>
<text class="lb" transform="translate(420,697) rotate(-90)">MG+90</text>
<text class="lb" transform="translate(424,697) rotate(-90)">MG+60</text>
<text class="lb" transform="translate(428,697) rotate(-90)">MG+45</text>
<text class="lb" transform="translate(432,697) rotate(-90)">MG+30</text>
<text class="lb" transform="translate(436,697) rotate(-90)">MG+t5</text>
<text class="lb" transform="translate(440,697) rotate(-90)">MG+10</text>
<text class="lb" transform="translate(445,697) rotate(-90)">MG+5</text>
<text class="lb" transform="translate(457.5,697) rotate(-90)">Glucon</text>
<text class="lb" transform="translate(461,697) rotate(-90)">GM+5</text>
<text class="lb" transform="translate(465,697) rotate(-90)">GM+10</text>
<text class="lb" transform="translate(469,697) rotate(-90)">GM+15</text>
<text class="lb" transform="translate(473,697) rotate(-90)">GM+25</text>
<text class="lb" transform="translate(477,697) rotate(-90)">GM+30</text>
<text class="lb" transform="translate(481,697) rotate(-90)">GM+45</text>
<text class="lb" transform="translate(485,697) rotate(-90)">GM+60</text>
<text class="lb" transform="translate(489,697) rotate(-90)">GM+90</text>
<text class="lb" transform="translate(493,697) rotate(-90)">GM+120</text>
<text class="lb" transform="translate(497,697) rotate(-90)">GM+5</text>
<text class="lb" transform="translate(501,697) rotate(-90)">GM+10</text>
<text class="lb" transform="translate(505,697) rotate(-90)">GM+15</text>
<text class="lb" transform="translate(509,697) rotate(-90)">GM+30</text>
<text class="lb" transform="translate(513,697) rotate(-90)">GM+45</text>
<text class="lb" transform="translate(517,697) rotate(-90)">GM+60</text>
<text class="lb" transform="translate(521,697) rotate(-90)">GM+90</text>
<text class="lb" transform="translate(526,697) rotate(-90)">M9+45</text>
<text class="lb" transform="translate(531,697) rotate(-90)">M9+5</text>
<text class="lb" transform="translate(547.5,697) rotate(-90)">M/G</text>
<text class="lb" transform="translate(574.5,697) rotate(-90)">Fru</text>
<text class="lb" transform="translate(589.5,697) rotate(-90)">SMM</text>
<text class="lb" transform="translate(607.5,697) rotate(-90)">Heat</text>
<text class="lb" transform="translate(639.5,697) rotate(-90)">Salt</text>
<text class="lb" transform="translate(667.5,697) rotate(-90)">HiTm</text>
<text class="lb" transform="translate(698.5,697) rotate(-90)">S1</text>
<text class="lb" transform="translate(731.5,697) rotate(-90)">S3</text>
<text class="lb" transform="translate(751.5,697) rotate(-90)">S3</text>
<text class="lb" transform="translate(769.5,697) rotate(-90)">S6</text>
<text class="lb" transform="translate(796.5,697) rotate(-90)">S8</text>
<text class="lb" transform="translate(836.5,697) rotate(-90)">BT</text>
<text class="lb" transform="translate(857.5,697) rotate(-90)">B60</text>
<text class="lb" transform="translate(887.5,697) rotate(-90)">Pyr</text>
<text class="lb" transform="translate(912.5,697) rotate(-90)">Glucon</text>
<text class="lb" transform="translate(931.5,697) rotate(-90)">T=−5.40H</text>
<text class="lb" transform="translate(936.5,697) rotate(-90)">T=−3.40H</text>
<text class="lb" transform="translate(941.5,697) rotate(-90)">T=−1.40H</text>
<text class="lb" transform="translate(954.5,697) rotate(-90)">T0.30H</text>
<text class="lb" transform="translate(959.5,697) rotate(-90)">T1.30H</text>
<text class="lb" transform="translate(964.5,697) rotate(-90)">T2.30H</text>
<text class="lb" transform="translate(969.5,697) rotate(-90)">T3.30H</text>
<text class="lb" transform="translate(974.5,697) rotate(-90)">T4.0H</text>
<text class="lb" transform="translate(979.5,697) rotate(-90)">T5.0H</text>
<text class="lb" transform="translate(1011.5,697) rotate(-90)">BC</text>
<text class="lb" transform="translate(1044.5,697) rotate(-90)">LPhT</text>
<text class="lb" transform="translate(1076.5,697) rotate(-90)">LBGtran</text>
<text class="lb" transform="translate(1089.5,697) rotate(-90)">M40t45</text>
<text class="lb" transform="translate(1109.5,697) rotate(-90)">Mt0</text>
<text class="lb" transform="translate(1122.5,697) rotate(-90)">M40t90</text>
<text class="lb" transform="translate(1147.5,697) rotate(-90)">Lbstat</text>
<text class="lb" transform="translate(1172.5,697) rotate(-90)">S0</text>
<text class="lb" transform="translate(1189.5,697) rotate(-90)">dia0</text>
<text class="lb" transform="translate(1201.5,697) rotate(-90)">Mt0</text>
<text class="lb" transform="translate(1207.5,697) rotate(-90)">Mt0</text>
</g>
</svg>
</body></html>
